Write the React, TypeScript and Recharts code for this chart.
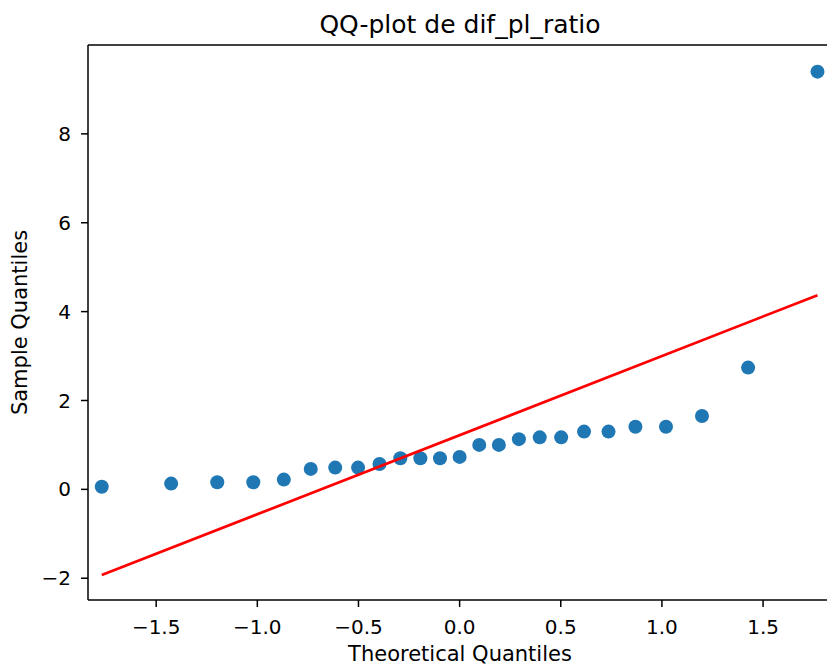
import React from "react";
import { ScatterChart, Scatter, XAxis, YAxis, ReferenceLine } from "recharts";

const theoreticalQuantiles = [
  -1.769, -1.426, -1.198, -1.02, -0.869, -0.736, -0.615, -0.502, -0.396, -0.293,
  -0.194, -0.097, 0, 0.097, 0.194, 0.293, 0.396, 0.502, 0.615, 0.736, 0.869,
  1.02, 1.198, 1.426, 1.769,
];
const sampleQuantiles = [
  0.06, 0.13, 0.16, 0.16, 0.22, 0.46, 0.49, 0.49, 0.57, 0.7, 0.7, 0.7, 0.73,
  1.0, 1.0, 1.13, 1.17, 1.17, 1.3, 1.3, 1.41, 1.41, 1.65, 2.74, 9.4,
];
const lineX = [-1.769, 1.769];
const lineY = [-1.93, 4.37];
const xTicks = [-1.5, -1.0, -0.5, 0.0, 0.5, 1.0, 1.5];
const yTicks = [-2, 0, 2, 4, 6, 8];
const xDomain = [-1.837, 1.816];
const yDomain = [-2.49, 10.0];

const title = "QQ-plot de dif_pl_ratio";
const xLabel = "Theoretical Quantiles";
const yLabel = "Sample Quantiles";

const points = theoreticalQuantiles.map((x, i) => ({ x, y: sampleQuantiles[i] }));
const linePoints = lineX.map((x, i) => ({ x, y: lineY[i] }));

const FONT = "DejaVu Sans, sans-serif";
const fmtX = (v: number) => (v < 0 ? "\u2212" + Math.abs(v).toFixed(1) : v.toFixed(1));
const fmtY = (v: number) => (v < 0 ? "\u2212" + Math.abs(v) : String(v));

const Dot = (p: any) => <circle cx={p.cx} cy={p.cy} r={7} fill="#1f77b4" />;
const NoShape = () => <g />;

export default function App() {
  return (
    <div style={{ width: 827, height: 664, overflow: "hidden" }}>
      <style>{"html,body{margin:0;padding:0;overflow:hidden;}"}</style>
      <ScatterChart
        width={827}
        height={664}
        margin={{ top: 45, right: 0, bottom: 0, left: 0 }}
      >
        <XAxis
          dataKey="x"
          type="number"
          domain={xDomain}
          allowDataOverflow
          ticks={xTicks}
          interval={0}
          tickFormatter={fmtX}
          height={64}
          tickSize={7}
          tickMargin={13}
          tick={{ fill: "#000", fontSize: 20, fontFamily: FONT }}
          tickLine={{ stroke: "#000", strokeWidth: 1.5 }}
          axisLine={{ stroke: "#000", strokeWidth: 1.5 }}
          label={(props: any) => {
            const vb = props.viewBox || {};
            return (
              <text
                x={460}
                y={vb.y + 61}
                textAnchor="middle"
                fontFamily={FONT}
                fontSize={21}
                fill="#000"
              >
                {xLabel}
              </text>
            );
          }}
        />
        <YAxis
          dataKey="y"
          type="number"
          domain={yDomain}
          allowDataOverflow
          ticks={yTicks}
          interval={0}
          tickFormatter={fmtY}
          width={88}
          tickSize={7}
          tickMargin={10}
          tick={{ fill: "#000", fontSize: 20, fontFamily: FONT }}
          tickLine={{ stroke: "#000", strokeWidth: 1.5 }}
          axisLine={{ stroke: "#000", strokeWidth: 1.5 }}
          label={(props: any) => {
            const vb = props.viewBox || {};
            const cy = vb.y + vb.height / 2;
            return (
              <text
                x={27}
                y={cy}
                textAnchor="middle"
                transform={`rotate(-90, 27, ${cy})`}
                fontFamily={FONT}
                fontSize={21}
                fill="#000"
              >
                {yLabel}
              </text>
            );
          }}
        />
        <ReferenceLine
          y={yDomain[1]}
          stroke="#000"
          strokeWidth={1.5}
          ifOverflow="visible"
          label={(props: any) => {
            const vb = props.viewBox || {};
            return (
              <text
                x={460}
                y={vb.y - 12}
                textAnchor="middle"
                fontFamily={FONT}
                fontSize={25}
                fill="#000"
              >
                {title}
              </text>
            );
          }}
        />
        <Scatter
          data={points}
          dataKey="y"
          shape={Dot}
          isAnimationActive={false}
        />
        <Scatter
          data={linePoints}
          dataKey="y"
          shape={NoShape}
          line={{ stroke: "#ff0000", strokeWidth: 2.7 }}
          isAnimationActive={false}
        />
      </ScatterChart>
    </div>
  );
}
